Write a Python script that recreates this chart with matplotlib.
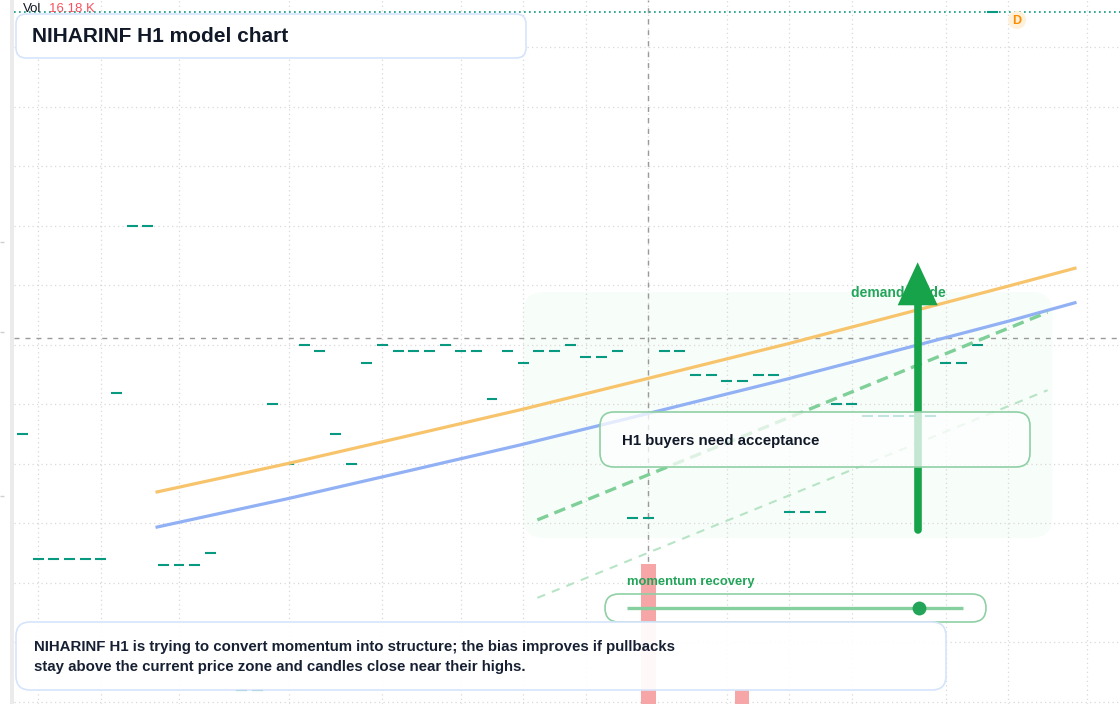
import matplotlib
matplotlib.use("Agg")
import matplotlib.pyplot as plt
from matplotlib.patches import FancyBboxPatch, Rectangle, Circle
import numpy as np

plt.rcParams['font.family'] = ['Liberation Sans', 'DejaVu Sans']

# H1 bars (bar index, close) - flat bars, drawn as dashes
bar_idx = [0, 1, 2, 3, 4, 5, 6, 7, 8, 9, 10, 11, 12, 14, 15, 16, 17, 18, 19, 20,
           21, 22, 23, 24, 25, 26, 27, 28, 29, 30, 31, 32, 33, 34, 35, 36, 37, 38,
           39, 40, 41, 42, 43, 44, 45, 46, 47, 48, 49, 50, 51, 52, 53, 54, 55, 56,
           57, 58, 59, 60, 61, 62]
bar_close = [10.85, 10.64, 10.64, 10.64, 10.64, 10.64, 10.92, 11.20, 11.20, 10.63,
             10.63, 10.63, 10.65, 10.42, 10.42, 10.90, 10.80, 11.00, 10.99, 10.85,
             10.80, 10.97, 11.00, 10.99, 10.99, 10.99, 11.00, 10.99, 10.99, 10.91,
             10.99, 10.97, 10.99, 10.99, 11.00, 10.98, 10.98, 10.99, 10.71, 10.71,
             10.99, 10.99, 10.95, 10.95, 10.94, 10.94, 10.95, 10.95, 10.72, 10.72,
             10.72, 10.90, 10.90, 10.88, 10.88, 10.88, 10.88, 10.88, 10.97, 10.97,
             11.00, 11.56]

# volume
vol_idx = [40, 46]
vol_val = [16180, 1620]

# model averages
ema_idx = [8.6, 17.0, 24.1, 31.8, 40.0, 48.9, 57.2, 63.0, 67.25]
ema_fast = [10.753, 10.801, 10.844, 10.891, 10.944, 11.002, 11.059, 11.099, 11.129]
ema_slow = [10.694, 10.742, 10.785, 10.832, 10.885, 10.943, 11.000, 11.040, 11.071]

# projected channel
chan_idx = [32.9, 65.5]
chan_upper = [10.706, 11.055]
chan_lower = [10.575, 10.924]

# demand zone and arrow
zone_idx = [32.0, 65.8]
zone_price = [10.676, 11.089]
arrow_idx = 57.2
arrow_price = [10.689, 11.139]
label_idx, label_price = 52.94, 11.087

# crosshair
cross_idx = 40
cross_price = 11.012

time_grid = [1, 5, 10, 17, 23, 28, 32, 36, 40, 45, 49, 53, 59, 63, 68]
price_grid = [10.4, 10.5, 10.6, 10.7, 10.8, 10.9, 11.0, 11.1, 11.2, 11.3, 11.4, 11.5]

momentum = 0.87

title = "NIHARINF H1 model chart"
note = ["NIHARINF H1 is trying to convert momentum into structure; the bias improves if pullbacks",
        "stay above the current price zone and candles close near their highs."]

W, H = 1120, 704
px_x = 15.65   # pixels per bar
px_y = 595.0   # pixels per price unit

fig = plt.figure(figsize=(W / 100, H / 100), dpi=100)
ax = fig.add_axes([14 / W, 0, 1 - 14 / W, 1], zorder=1)
ax.set_xlim(-0.543, 70.128)
ax.set_ylim(10.3966, 11.5798)
ax.axis('off')

grid_kw = dict(colors='#d9d9d9', lw=0.9, linestyles=(0, (1, 2.6)), zorder=1)
ax.vlines(time_grid, 10.3966, 11.5798, **grid_kw)
ax.hlines(price_grid, -0.543, 70.128, **grid_kw)

zone = FancyBboxPatch((zone_idx[0], zone_price[0]), zone_idx[1] - zone_idx[0],
                      zone_price[1] - zone_price[0],
                      boxstyle='round,pad=0,rounding_size=1.3',
                      mutation_aspect=px_x / px_y, fc='#f7fdf9', ec='none', zorder=0.5)
ax.add_patch(zone)

# last price line and crosshair
ax.axhline(bar_close[-1], color='#089981', lw=1.2, ls=(0, (1, 2)), zorder=2)
ax.axvline(cross_idx, color='#9a9a9a', lw=1, ls=(0, (3.6, 4.3)), zorder=2)
ax.axhline(cross_price, color='#9a9a9a', lw=1, ls=(0, (3.6, 4.3)), zorder=2)

bi = np.array(bar_idx)
ax.hlines(bar_close, bi - 0.35, bi + 0.35, colors='#089981', lw=1.5, zorder=3)

ax.plot(ema_idx, ema_fast, color='#f7c46c', lw=2.3, zorder=4)
ax.plot(ema_idx, ema_slow, color='#91b1f4', lw=2.3, zorder=4)
ax.plot(chan_idx, chan_upper, color='#7fcf98', lw=2.4, ls=(0, (3.5, 2)), zorder=4)
ax.plot(chan_idx, chan_lower, color='#b8e4c6', lw=1.5, ls=(0, (4, 3.5)), zorder=4)

ax.text(label_idx, label_price, "demand guide", color='#22a559', fontsize=10,
        fontweight='bold', va='center', ha='left', zorder=5)

head_len = 43 / px_y
head_half = 20 / px_x
head_base = arrow_price[1] - head_len
ax.plot([arrow_idx, arrow_idx], [arrow_price[0], head_base + 0.005], color='#16a34a',
        lw=5.5, solid_capstyle='round', zorder=6)
ax.fill([arrow_idx - head_half, arrow_idx + head_half, arrow_idx],
        [head_base, head_base, arrow_price[1]], color='#16a34a', lw=0, zorder=6)

# volume pane
vax = fig.add_axes([14 / W, 0, 1 - 14 / W, 1], zorder=1.5, sharex=ax)
vax.set_ylim(0, vol_val[0] * H / 140)
vax.bar(vol_idx, vol_val, width=0.9, color='#f6a6a6', zorder=2)
vax.axis('off')

# overlay in pixel space for labels and cards
over = fig.add_axes([0, 0, 1, 1], zorder=3)
over.set_xlim(0, W)
over.set_ylim(H, 0)
over.axis('off')

over.add_patch(Rectangle((10, 0), 4, H, fc='#ebebeb', ec='none'))
over.hlines([242, 332, 496], 0, 4, colors='#d0d0d0', lw=1)

over.text(23, 8.5, "Vol", fontsize=9.5, color='#131722', va='center')
over.text(49, 8.5, f"{vol_val[0] / 1000:.2f} K", fontsize=9.5, color='#f7525f', va='center')

over.add_patch(Circle((1017, 20), 9, fc='#fff0da', ec='none'))
over.text(1017, 20.5, "D", fontsize=9, fontweight='bold', color='#fb8c00',
          ha='center', va='center')

over.add_patch(FancyBboxPatch((16, 14), 510, 44, boxstyle='round,pad=0,rounding_size=10',
                              fc='white', ec='#d6e4fb', lw=1.2))
over.text(32, 36.5, title, fontsize=15, fontweight='bold', color='#111827', va='center')

over.add_patch(FancyBboxPatch((600, 412), 430, 55, boxstyle='round,pad=0,rounding_size=14',
                              fc=(1, 1, 1, 0.75), ec='#8fd0a4', lw=1.2))
over.text(622, 441.5, "H1 buyers need acceptance", fontsize=10.8, fontweight='bold',
          color='#111827', va='center')

over.text(627, 582.5, "momentum recovery", fontsize=9.4, fontweight='bold',
          color='#22a559', va='center')
over.add_patch(FancyBboxPatch((605, 594), 381, 28, boxstyle='round,pad=0,rounding_size=14',
                              fc='none', ec='#8fd0a4', lw=1.2))
over.plot([627, 963], [608, 608], color='#86cf9f', lw=2.4, solid_capstyle='butt')
over.plot(627 + momentum * (963 - 627), 608, 'o', ms=10, color='#22a559', mec='none')

over.add_patch(FancyBboxPatch((16, 622), 930, 68, boxstyle='round,pad=0,rounding_size=14',
                              fc=(1, 1, 1, 0.93), ec='#d6e4fb', lw=1.2))
over.text(34, 647.5, note[0], fontsize=10.8, fontweight='bold', color='#172033', va='center')
over.text(34, 667.5, note[1], fontsize=10.8, fontweight='bold', color='#172033', va='center')

fig.savefig("out.png", dpi=100)
